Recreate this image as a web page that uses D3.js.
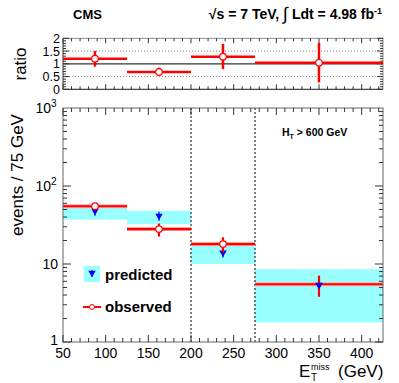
<!DOCTYPE html>
<html><head><meta charset="utf-8">
<script src="https://cdn.jsdelivr.net/npm/d3@7"></script>
<style>body{margin:0;background:#fff}svg{display:block}text{font-family:"Liberation Sans",Arial,sans-serif}</style>
</head><body><svg id="c" width="399" height="383"></svg>
<script>
const binLo = [50, 125, 200, 275];
const binHi = [125, 200, 275, 425];
const binCenter = [87.5, 162.5, 237.5, 350];
const observed = [55, 28, 18, 5.5];
const observedLo = [50, 22.5, 14, 3.8];
const observedHi = [60, 33, 22, 7.1];
const predicted = [48, 41.5, 14, 5.4];
const bandLo = [37, 32.5, 10, 1.78];
const bandHi = [54, 48, 18.5, 8.6];
const ratio = [1.2, 0.68, 1.28, 1.04];
const ratioLo = [0.89, 0.53, 0.79, 0.27];
const ratioHi = [1.5, 0.85, 1.78, 1.82];
const xTicks = [50, 100, 150, 200, 250, 300, 350, 400];
const ratioTicks = [0, 0.5, 1, 1.5, 2];
const regionLines = [200, 275];

const svg = d3.select("#c");
const L = 63, R = 383;
const x = d3.scaleLinear().domain([50, 425]).range([L, R]);
const y = d3.scaleLog().domain([1, 1000]).range([342, 108]);
const yr = d3.scaleLinear().domain([0, 2]).range([89.3, 38.3]);
const axisCol = "#333";

// ---------- ratio panel ----------
const gr = svg.append("g");
[0.5, 1.5].forEach(v => gr.append("line").attr("x1", L).attr("x2", R).attr("y1", yr(v)).attr("y2", yr(v))
  .attr("stroke", "#888").attr("stroke-dasharray", "1,2"));
gr.append("line").attr("x1", L).attr("x2", R).attr("y1", yr(1)).attr("y2", yr(1)).attr("stroke", "#333").attr("stroke-width", 1.2);
gr.append("rect").attr("x", L).attr("y", yr(2)).attr("width", R - L).attr("height", yr(0) - yr(2))
  .attr("fill", "none").attr("stroke", "#777").attr("stroke-width", 0.8);
d3.range(50, 426, 10).forEach(v => {
  const len = v % 50 === 0 ? 5 : 3;
  gr.append("line").attr("x1", x(v)).attr("x2", x(v)).attr("y1", yr(0)).attr("y2", yr(0) - len).attr("stroke", axisCol);
  gr.append("line").attr("x1", x(v)).attr("x2", x(v)).attr("y1", yr(2)).attr("y2", yr(2) + len).attr("stroke", axisCol);
});
gr.append("line").attr("x1", L).attr("x2", R).attr("y1", yr(0)).attr("y2", yr(0)).attr("stroke", axisCol);
gr.append("line").attr("x1", L).attr("x2", L).attr("y1", yr(0)).attr("y2", yr(2)).attr("stroke", "#666");
ratioTicks.forEach(v => {
  gr.append("line").attr("x1", L).attr("x2", L + 6).attr("y1", yr(v)).attr("y2", yr(v)).attr("stroke", axisCol);
  gr.append("line").attr("x1", R).attr("x2", R - 6).attr("y1", yr(v)).attr("y2", yr(v)).attr("stroke", axisCol);
  gr.append("text").attr("x", L - 3).attr("y", yr(v) + 4.5).attr("text-anchor", "end").attr("font-size", 12.5).text(v);
});
d3.range(0.1, 2, 0.1).forEach(v => {
  if (Math.abs(v * 2 - Math.round(v * 2)) < 1e-6) return;
  gr.append("line").attr("x1", L).attr("x2", L + 3).attr("y1", yr(v)).attr("y2", yr(v)).attr("stroke", axisCol);
  gr.append("line").attr("x1", R).attr("x2", R - 3).attr("y1", yr(v)).attr("y2", yr(v)).attr("stroke", axisCol);
});
ratio.forEach((r, i) => {
  gr.append("line").attr("x1", x(binLo[i])).attr("x2", x(binHi[i])).attr("y1", yr(r)).attr("y2", yr(r)).attr("stroke", "red").attr("stroke-width", 2.5);
  gr.append("line").attr("x1", x(binCenter[i])).attr("x2", x(binCenter[i])).attr("y1", yr(ratioLo[i])).attr("y2", yr(ratioHi[i])).attr("stroke", "red").attr("stroke-width", 2.5);
  gr.append("circle").attr("cx", x(binCenter[i])).attr("cy", yr(r)).attr("r", 3.3).attr("fill", "#fff").attr("stroke", "red").attr("stroke-width", 1.2);
});
svg.append("text").attr("transform", `translate(26,64) rotate(-90)`).attr("text-anchor", "middle").attr("font-size", 17).text("ratio");

// ---------- main panel ----------
const gm = svg.append("g");
predicted.forEach((p, i) => {
  gm.append("rect").attr("x", x(binLo[i])).attr("width", x(binHi[i]) - x(binLo[i]))
    .attr("y", y(bandHi[i])).attr("height", y(bandLo[i]) - y(bandHi[i])).attr("fill", "#99ffff");
});
regionLines.forEach(v => gm.append("line").attr("x1", x(v)).attr("x2", x(v)).attr("y1", y(1)).attr("y2", y(1000))
  .attr("stroke", "#000").attr("stroke-dasharray", "2,2"));
const tri = d3.symbol().type(d3.symbolTriangle).size(24);
predicted.forEach((p, i) => {
  gm.append("line").attr("x1", x(binCenter[i])).attr("x2", x(binCenter[i])).attr("y1", y(p) - 4).attr("y2", y(p) + 5).attr("stroke", "blue").attr("stroke-width", 1.2);
  gm.append("path").attr("d", tri).attr("transform", `translate(${x(binCenter[i])},${y(p)}) rotate(180)`).attr("fill", "blue");
});
observed.forEach((o, i) => {
  gm.append("line").attr("x1", x(binLo[i])).attr("x2", x(binHi[i])).attr("y1", y(o)).attr("y2", y(o)).attr("stroke", "#ffaaaa").attr("stroke-width", 4);
  gm.append("line").attr("x1", x(binLo[i])).attr("x2", x(binHi[i])).attr("y1", y(o)).attr("y2", y(o)).attr("stroke", "red").attr("stroke-width", 2.2);
  gm.append("line").attr("x1", x(binCenter[i])).attr("x2", x(binCenter[i])).attr("y1", y(observedLo[i])).attr("y2", y(observedHi[i])).attr("stroke", "red").attr("stroke-width", 2.2);
  if (i < 3) gm.append("circle").attr("cx", x(binCenter[i])).attr("cy", y(o)).attr("r", 3.3).attr("fill", "#fff").attr("stroke", "red").attr("stroke-width", 1.2);
});
gm.append("path").attr("d", tri).attr("transform", `translate(${x(binCenter[3])},${y(predicted[3])}) rotate(180)`).attr("fill", "blue");

gm.append("rect").attr("x", L).attr("y", y(1000)).attr("width", R - L).attr("height", y(1) - y(1000))
  .attr("fill", "none").attr("stroke", "#666").attr("stroke-width", 1);
d3.range(50, 426, 10).forEach(v => {
  const len = v % 50 === 0 ? 7 : 4;
  gm.append("line").attr("x1", x(v)).attr("x2", x(v)).attr("y1", y(1)).attr("y2", y(1) - len).attr("stroke", axisCol);
  gm.append("line").attr("x1", x(v)).attr("x2", x(v)).attr("y1", y(1000)).attr("y2", y(1000) + len).attr("stroke", axisCol);
});
xTicks.forEach(v => gm.append("text").attr("x", x(v)).attr("y", 358).attr("text-anchor", "middle").attr("font-size", 14).text(v));
[1, 10, 100].forEach(d => {
  for (let k = 1; k <= 9; k++) {
    const v = d * k, len = k === 1 ? 8 : 4;
    gm.append("line").attr("x1", L).attr("x2", L + len).attr("y1", y(v)).attr("y2", y(v)).attr("stroke", axisCol);
    gm.append("line").attr("x1", R).attr("x2", R - len).attr("y1", y(v)).attr("y2", y(v)).attr("stroke", axisCol);
  }
});
const ylab = [[1, "1", null], [10, "10", null], [100, "10", "2"], [1000, "10", "3"]];
ylab.forEach(([v, b, e]) => {
  gm.append("text").attr("x", e ? L - 12 : L - 5).attr("y", v === 1 ? y(v) + 3 : y(v) + 5).attr("text-anchor", "end").attr("font-size", 14).text(b);
  if (e) gm.append("text").attr("x", L - 12).attr("y", y(v) - 1).attr("font-size", 10).text(e);
});
svg.append("text").attr("transform", `translate(23,175) rotate(-90)`).attr("text-anchor", "middle").attr("font-size", 17).text("events / 75 GeV");

// axis title
svg.append("text").attr("x", 299).attr("y", 377).attr("font-size", 17).text("E");
svg.append("text").attr("x", 311).attr("y", 370).attr("font-size", 9).text("miss");
svg.append("text").attr("x", 311).attr("y", 381).attr("font-size", 10).text("T");
svg.append("text").attr("x", 338).attr("y", 377).attr("font-size", 17).text("(GeV)");

// header
svg.append("text").attr("x", 73).attr("y", 19).attr("font-size", 13).attr("font-weight", "bold").text("CMS");
const hd = svg.append("text").attr("x", 382).attr("y", 19).attr("text-anchor", "end").attr("font-size", 14).attr("font-weight", "bold");
hd.append("tspan").text("\u221As = 7 TeV,  ");
hd.append("tspan").attr("font-size", 18).attr("font-weight", "normal").attr("dy", 1).text("\u222B");
hd.append("tspan").attr("dy", -1).text(" Ldt = 4.98 fb");
hd.append("tspan").attr("dy", -5).attr("font-size", 9).text("-1");

// HT label
const ht = svg.append("text").attr("x", 282).attr("y", 136).attr("font-size", 10.5).attr("font-weight", "bold");
ht.append("tspan").text("H");
ht.append("tspan").attr("dy", 3).attr("font-size", 7).text("T");
ht.append("tspan").attr("dy", -3).text(" > 600 GeV");

// legend
svg.append("rect").attr("x", 84).attr("y", 266).attr("width", 16).attr("height", 16).attr("fill", "#99ffff");
svg.append("line").attr("x1", 92).attr("x2", 92).attr("y1", 270).attr("y2", 277).attr("stroke", "blue");
svg.append("path").attr("d", tri).attr("transform", "translate(92,273) rotate(180)").attr("fill", "blue");
svg.append("text").attr("x", 105).attr("y", 280).attr("font-size", 15).attr("font-weight", "bold").text("predicted");
svg.append("line").attr("x1", 83).attr("x2", 101).attr("y1", 307).attr("y2", 307).attr("stroke", "red").attr("stroke-width", 2);
svg.append("circle").attr("cx", 92).attr("cy", 307).attr("r", 2.5).attr("fill", "#fff").attr("stroke", "red");
svg.append("text").attr("x", 105).attr("y", 312).attr("font-size", 15).attr("font-weight", "bold").text("observed");
</script></body></html>
